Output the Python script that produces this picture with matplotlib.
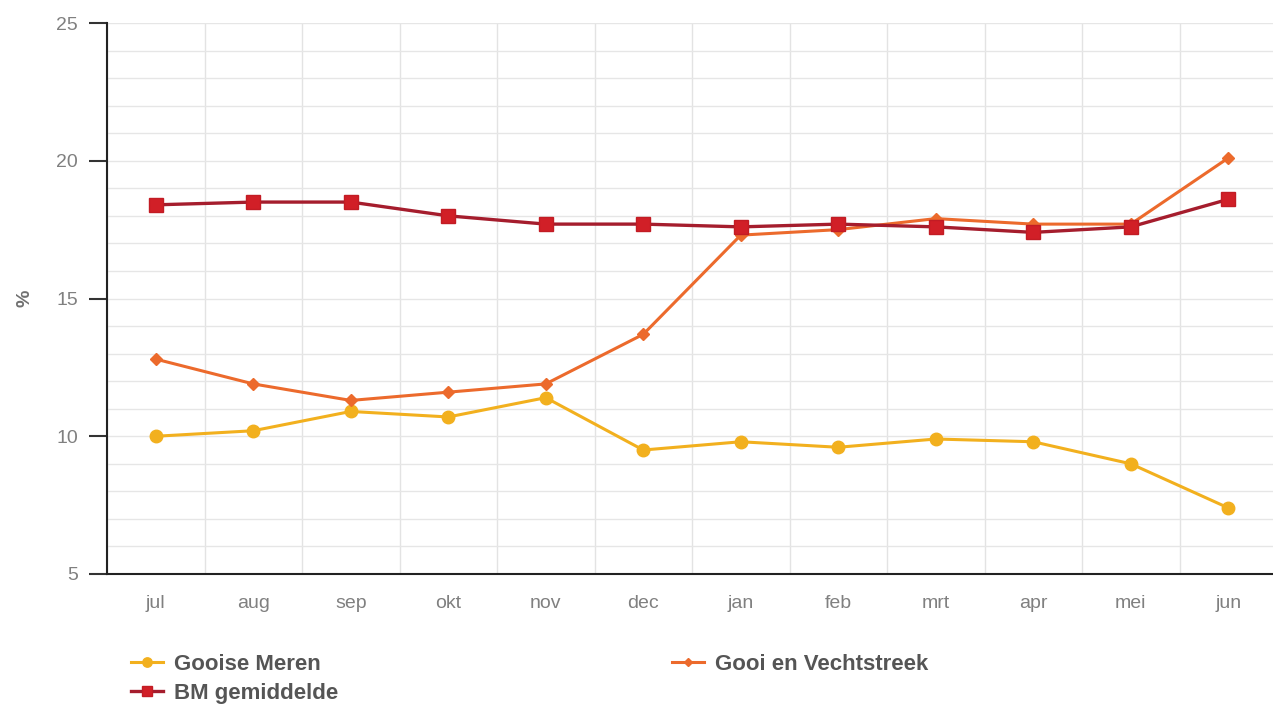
import numpy as np
import matplotlib.pyplot as plt
from matplotlib.ticker import MultipleLocator

months = ["jul", "aug", "sep", "okt", "nov", "dec", "jan", "feb", "mrt", "apr", "mei", "jun"]
gooise_meren = [10.0, 10.2, 10.9, 10.7, 11.4, 9.5, 9.8, 9.6, 9.9, 9.8, 9.0, 7.4]
gooi_vecht = [12.8, 11.9, 11.3, 11.6, 11.9, 13.7, 17.3, 17.5, 17.9, 17.7, 17.7, 20.1]
bm_gem = [18.4, 18.5, 18.5, 18.0, 17.7, 17.7, 17.6, 17.7, 17.6, 17.4, 17.6, 18.6]

plt.rcParams['font.family'] = ['Liberation Sans', 'DejaVu Sans']

fig = plt.figure(figsize=(12.73, 7.05), dpi=100)
ax = fig.add_axes([107/1273, 131/705, 1170/1273, 551/705])

x = np.arange(len(months))
l1, = ax.plot(x, gooise_meren, color="#f2b01e", lw=2.2, marker="o", ms=9, zorder=3)
l2, = ax.plot(x, gooi_vecht, color="#ec6a2c", lw=2.2, marker="D", ms=6, zorder=4)
l3, = ax.plot(x, bm_gem, color="#a51d2d", lw=2.4, marker="s", ms=10,
              mfc="#d11f27", mec="#c21c24", zorder=5)

ax.set_xlim(-0.5, 11.5)
ax.set_ylim(5, 25)
ax.set_xticks(x)
ax.set_xticklabels(months)
ax.xaxis.set_minor_locator(MultipleLocator(1, offset=0.5))
ax.yaxis.set_major_locator(MultipleLocator(5))
ax.yaxis.set_minor_locator(MultipleLocator(1))

ax.grid(which="minor", axis="x", color="#e3e3e3", lw=1)
ax.grid(which="both", axis="y", color="#e6e6e6", lw=1)
ax.set_axisbelow(True)

ax.tick_params(axis="x", which="both", length=0, pad=15, labelsize=14, labelcolor="#808080")
ax.tick_params(axis="y", which="major", length=13, width=1.5, color="#333333", pad=8,
               labelsize=14, labelcolor="#808080")
ax.tick_params(axis="y", which="minor", length=0)

for s in ["top", "right"]:
    ax.spines[s].set_visible(False)
ax.spines["left"].set_linewidth(1.5)
ax.spines["bottom"].set_linewidth(1.5)
ax.spines["left"].set_color("#222222")
ax.spines["bottom"].set_color("#222222")

ax.set_ylabel("%", fontsize=14, fontweight="bold", color="#707070", labelpad=16)

fig.legend([l1, l3, l2], ["Gooise Meren", "BM gemiddelde", "Gooi en Vechtstreek"],
           ncol=2, loc="upper left", bbox_to_anchor=(131/1273, 1 - 654/705),
           frameon=False, prop={"weight": "bold", "size": 16}, labelcolor="#555555",
           handlelength=1.45, handletextpad=0.5, columnspacing=15.0, labelspacing=0.36,
           markerscale=0.75, borderaxespad=0, borderpad=0)

fig.savefig("out.png", dpi=100, facecolor="white")
